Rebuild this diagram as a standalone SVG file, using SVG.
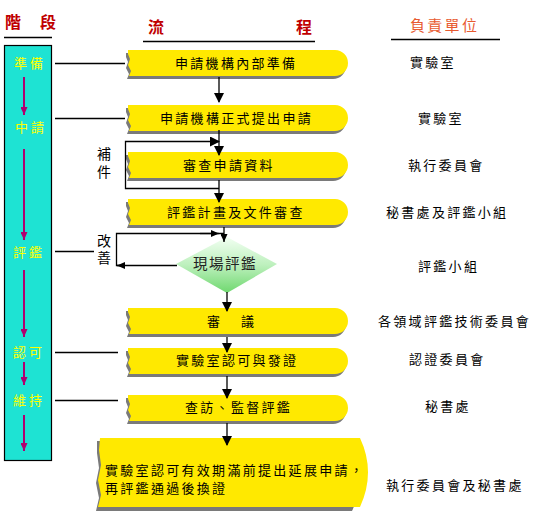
<svg xmlns="http://www.w3.org/2000/svg" xmlns:xlink="http://www.w3.org/1999/xlink" width="543" height="517" viewBox="0 0 543 517">
<style>
text{font-family:"Noto Sans CJK TC","Noto Sans CJK SC",sans-serif;}
.hdr{font-size:16px;font-weight:bold;fill:#c00000;}
.unit{font-size:15px;fill:#e85a30;letter-spacing:2.3px;}
.stage{font-size:13px;fill:#ffff00;letter-spacing:3px;}
.ntx{font-size:13px;fill:#000;letter-spacing:2.3px;}
.rtx{font-size:13px;fill:#000;letter-spacing:2.3px;}
.side{font-size:14px;fill:#000;writing-mode:vertical-rl;}
.ln{stroke:#000;stroke-width:1.3;fill:none;}
.mg{stroke:#b0006f;stroke-width:2;fill:none;}
.yel{fill:#ffe900;}
.shd{fill:#7a7a7a;}
</style>
<defs>
<path id="pill" d="M0,0 H207 A13,13 0 0 1 207,26 H1 L3,21 L0,15 L2,9 L0,4 Z"/>
<marker id="ah" markerWidth="10" markerHeight="10" refX="9" refY="5" orient="auto" markerUnits="userSpaceOnUse"><path d="M0,0 L10,5 L0,10 Z" fill="#000"/></marker>
<marker id="ahs" markerWidth="8" markerHeight="7" refX="8" refY="3.5" orient="auto" markerUnits="userSpaceOnUse"><path d="M0,0 L8,3.5 L0,7 Z" fill="#000"/></marker>
<marker id="am" markerWidth="8" markerHeight="7" refX="8" refY="3.5" orient="auto" markerUnits="userSpaceOnUse"><path d="M0,0 L8,3.5 L0,7 Z" fill="#b0006f"/></marker>
<linearGradient id="dg" x1="0" y1="0" x2="0" y2="1"><stop offset="0" stop-color="#f2fff2"/><stop offset="0.5" stop-color="#bdf0bd"/><stop offset="1" stop-color="#6fd86f"/></linearGradient>
</defs>
<rect width="543" height="517" fill="#fff"/>

<g id="headers">
<text class="hdr" x="5" y="28">階</text>
<text class="hdr" x="40" y="28">段</text>
<line class="ln" x1="4" y1="37.5" x2="52" y2="37.5"/>
<text class="hdr" x="148" y="33">流</text>
<text class="hdr" x="296" y="33">程</text>
<line class="ln" x1="143" y1="41.5" x2="315" y2="41.5"/>
<text class="unit" x="410" y="31">負責單位</text>
<line class="ln" x1="391" y1="39.5" x2="500" y2="39.5"/>
</g>

<g id="stages">
<rect x="4.5" y="45.5" width="47" height="415" fill="#1ee3d3" stroke="#000" stroke-width="1.2"/>
<text class="stage" x="14" y="68">準備</text>
<text class="stage" x="15" y="132">中請</text>
<text class="stage" x="13" y="257">評鑑</text>
<text class="stage" x="13" y="357">認可</text>
<text class="stage" x="13" y="405">維持</text>
</g>

<g id="n1"><use href="#pill" class="shd" x="126" y="53"/><use href="#pill" class="yel" x="128" y="50"/><text class="ntx" x="175" y="68">申請機構內部準備</text></g>
<g id="n2"><use href="#pill" class="shd" x="126" y="108"/><use href="#pill" class="yel" x="128" y="105"/><text class="ntx" x="160" y="123">申請機構正式提出申請</text></g>
<g id="n3"><use href="#pill" class="shd" x="126" y="155"/><use href="#pill" class="yel" x="128" y="152"/><text class="ntx" x="183" y="170">審查申請資料</text></g>
<g id="n4"><use href="#pill" class="shd" x="126" y="202"/><use href="#pill" class="yel" x="128" y="199"/><text class="ntx" x="167" y="217">評鑑計畫及文件審查</text></g>
<g id="n5"><polygon points="227,237 277,264 227,293 176,264" fill="url(#dg)"/><text x="193" y="269" style="font-size:14.5px;fill:#222;letter-spacing:1.5px">現場評鑑</text></g>
<g id="n6"><use href="#pill" class="shd" x="126" y="311"/><use href="#pill" class="yel" x="128" y="308"/><text class="ntx" x="207" y="326">審</text><text class="ntx" x="241" y="326">議</text></g>
<g id="n7"><use href="#pill" class="shd" x="126" y="351"/><use href="#pill" class="yel" x="128" y="348"/><text class="ntx" x="176" y="365">實驗室認可與發證</text></g>
<g id="n8"><use href="#pill" class="shd" x="126" y="398"/><use href="#pill" class="yel" x="128" y="395"/><text class="ntx" x="185" y="412">查訪、監督評鑑</text></g>
<g id="n9">
<path class="shd" d="M97,441 H350 Q370,475 352,511 H96 L99,498 L96,483 L99,468 L97,453 Z"/>
<path class="yel" d="M100,438 H360 Q376,472 360,507 H98 L101,495 L98,480 L101,465 L99,450 Z"/>
<text class="ntx" x="105" y="475">實驗室認可有效期滿前提出延展申請，</text>
<text class="ntx" x="105" y="493">再評鑑通過後換證</text>
</g>

<g id="connectors">
<line class="mg" x1="24" y1="77" x2="24" y2="115" marker-end="url(#am)"/>
<line class="mg" x1="24" y1="149" x2="24" y2="240" marker-end="url(#am)"/>
<line class="mg" x1="24" y1="270" x2="24" y2="337" marker-end="url(#am)"/>
<line class="mg" x1="24" y1="362" x2="24" y2="385" marker-end="url(#am)"/>
<line class="mg" x1="24" y1="415" x2="24" y2="451" marker-end="url(#am)"/>
<line class="ln" x1="55" y1="63.5" x2="125" y2="63.5"/>
<line class="ln" x1="55" y1="118.5" x2="125" y2="118.5"/>
<line class="ln" x1="55" y1="251.5" x2="94" y2="251.5"/>
<line class="ln" x1="55" y1="352.5" x2="118" y2="352.5"/>
<line class="ln" x1="55" y1="400.5" x2="118" y2="400.5"/>
<line class="ln" x1="219" y1="77" x2="219" y2="102" marker-end="url(#ah)"/>
<line class="ln" x1="219" y1="130" x2="219" y2="155" marker-end="url(#ah)"/>
<path class="ln" d="M219,188.5 H125.5 V141.5 H219" marker-end="url(#ah)"/>
<line class="ln" x1="219" y1="180" x2="219" y2="202" marker-end="url(#ah)"/>
<line class="ln" x1="224" y1="227" x2="224" y2="242" marker-end="url(#ahs)"/>
<path class="ln" d="M224,233.5 H116.5 V265.5 H124" />
<line class="ln" x1="200" y1="233.5" x2="219" y2="233.5" marker-end="url(#ahs)"/>
<line class="ln" x1="177" y1="265.5" x2="117" y2="265.5" marker-end="url(#ahs)"/>
<line class="ln" x1="227" y1="292" x2="227" y2="311" marker-end="url(#ah)"/>
<line class="ln" x1="227" y1="337" x2="227" y2="352" marker-end="url(#ah)"/>
<line class="ln" x1="227" y1="376" x2="227" y2="398" marker-end="url(#ah)"/>
<line class="ln" x1="227" y1="423" x2="227" y2="445" marker-end="url(#ah)"/>
<text class="side" x="104" y="147" style="letter-spacing:4px">補件</text>
<text class="side" x="104" y="234" style="letter-spacing:3px">改善</text>
</g>

<g id="units">
<text class="rtx" x="410" y="67">實驗室</text>
<text class="rtx" x="418" y="123">實驗室</text>
<text class="rtx" x="408" y="170">執行委員會</text>
<text class="rtx" x="386" y="217">秘書處及評鑑小組</text>
<text class="rtx" x="418" y="271">評鑑小組</text>
<text class="rtx" x="378" y="326">各領域評鑑技術委員會</text>
<text class="rtx" x="409" y="364">認證委員會</text>
<text class="rtx" x="425" y="411">秘書處</text>
<text class="rtx" x="386" y="490">執行委員會及秘書處</text>
</g>
</svg>
